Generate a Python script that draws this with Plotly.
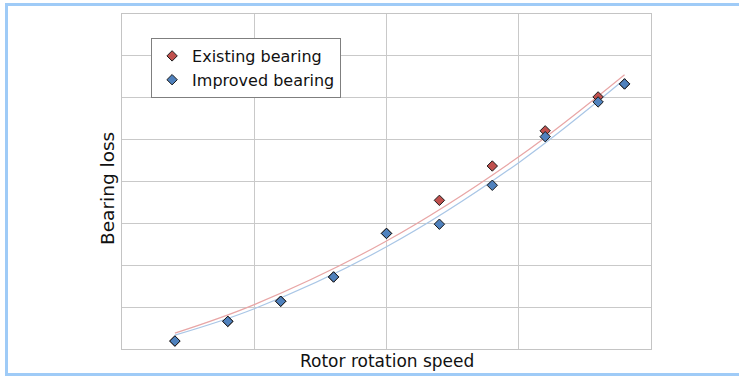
import plotly.graph_objects as go

# Data (grid units; axes have no tick labels)
speed = [0.4, 0.8, 1.2, 1.6, 2.0, 2.4, 2.8, 3.2, 3.6, 3.8]
loss_existing = [0.19, 0.66, 1.14, 1.72, 2.76, 3.55, 4.37, 5.21, 6.02, 6.33]
loss_improved = [0.19, 0.66, 1.14, 1.72, 2.76, 2.98, 3.91, 5.07, 5.90, 6.33]

# Trendlines
trend_speed = [0.4, 1.0, 2.0, 3.0, 3.8]
trend_existing = [0.38, 1.06, 2.58, 4.59, 6.55]
trend_improved = [0.33, 0.96, 2.44, 4.45, 6.44]

series_names = ["Existing bearing", "Improved bearing"]
x_title = "Rotor rotation speed"
y_title = "Bearing loss"

RED = "#c0504d"
BLUE = "#4f81bd"
RED_LINE = "#e8a6a6"
BLUE_LINE = "#a9c6e6"
FONT = "DejaVu Sans"

fig = go.Figure()

for ys, col in [(trend_existing, RED_LINE), (trend_improved, BLUE_LINE)]:
    fig.add_trace(go.Scatter(x=trend_speed, y=ys, mode="lines",
                             line=dict(color=col, width=1.2, shape="spline", smoothing=1),
                             showlegend=False, hoverinfo="skip"))

fig.add_trace(go.Scatter(x=speed, y=loss_existing, mode="markers", name=series_names[0],
                         marker=dict(symbol="diamond", size=8, color=RED,
                                     line=dict(color="#1a1a1a", width=1))))
fig.add_trace(go.Scatter(x=speed, y=loss_improved, mode="markers", name=series_names[1],
                         marker=dict(symbol="diamond", size=8, color=BLUE,
                                     line=dict(color="#1a1a1a", width=1))))

axis_common = dict(showticklabels=False, ticks="", showgrid=True, gridcolor="#c9c9c9",
                   gridwidth=1, zeroline=False, showline=True, linecolor="#c4c4c4",
                   linewidth=1, mirror=True, fixedrange=True)

fig.update_layout(
    width=739, height=376,
    margin=dict(l=122, r=88, t=14, b=27),
    paper_bgcolor="white", plot_bgcolor="white",
    font=dict(family=FONT, color="#111111", size=16),
    xaxis=dict(range=[0, 4], dtick=1, **axis_common),
    yaxis=dict(range=[0, 8], dtick=1, **axis_common),
    showlegend=True,
    legend=dict(x=0.055, y=(349 - 38) / 335, xanchor="left", yanchor="top",
                bgcolor="white", bordercolor="#7f7f7f", borderwidth=1,
                font=dict(family=FONT, size=16, color="#111111"),
                itemwidth=30, tracegroupgap=0),
    annotations=[
        dict(text=x_title, xref="paper", yref="paper", x=0.5, y=(349 - 361) / 335,
             showarrow=False, xanchor="center", yanchor="middle",
             font=dict(family=FONT, size=17, color="#111111")),
        dict(text=y_title, xref="paper", yref="paper", x=(108 - 122) / 529, y=(349 - 189) / 335,
             showarrow=False, xanchor="center", yanchor="middle", textangle=-90,
             font=dict(family=FONT, size=18.5, color="#111111")),
    ],
    shapes=[
        dict(type="rect", xref="paper", yref="paper",
             x0=(6.5 - 122) / 529, x1=(760 - 122) / 529,
             y0=(349 - 374.5) / 335, y1=(349 - 4.5) / 335,
             line=dict(color="#9fcbf7", width=3), fillcolor="rgba(0,0,0,0)", layer="below"),
    ],
)

fig.write_html("out.html", config={"displayModeBar": False},
               post_script="document.body.style.margin='0';")
